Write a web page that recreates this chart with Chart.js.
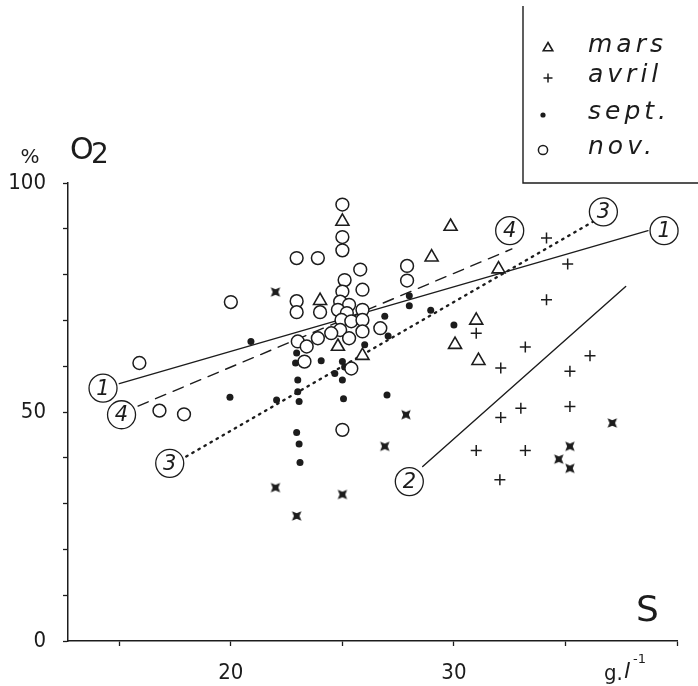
<!DOCTYPE html>
<html>
<head>
<meta charset="utf-8">
<script src="https://cdn.jsdelivr.net/npm/chart.js@4.4.1/dist/chart.umd.min.js"></script>
<style>
  html, body { margin: 0; background: #fff; }
  #wrap { width: 698px; height: 686px; position: relative; }
</style>
</head>
<body>
<div id="wrap"><canvas id="o2Chart"></canvas></div>
<script>
// salinity S (g/l) vs dissolved oxygen O2 (% saturation)
const marsS  = [25.0, 24.0, 29.85, 29.0, 32.0, 24.8, 25.9, 31.0, 30.05, 31.1];
const marsO2 = [91.6, 74.3, 90.5, 83.8, 81.2, 64.3, 62.3, 70.0, 64.7, 61.2];

const avrilS  = [34.15, 35.1, 34.15, 33.2, 31.0, 32.1, 36.1, 35.2, 33.0, 35.2, 32.1, 31.0, 33.2, 32.06];
const avrilO2 = [88.0, 82.3, 74.5, 64.2, 67.2, 59.6, 62.3, 58.9, 50.8, 51.2, 48.8, 41.6, 41.6, 35.2];

const septS  = [20.9, 22.95, 22.9, 24.05, 25.0, 24.66, 25.1, 23.0, 25.0, 23.0, 19.96, 22.05, 23.06,
                25.05, 27.0, 22.95, 23.06, 23.1, 26.9, 27.05, 26.0, 28.0, 28.0, 28.96, 30.0, 25.0];
const septO2 = [65.4, 62.9, 60.7, 61.2, 61.0, 58.4, 59.8, 57.0, 57.0, 54.4, 53.2, 52.6, 52.3,
                52.9, 53.7, 45.5, 43.0, 39.0, 70.9, 66.6, 64.7, 75.4, 73.2, 72.2, 69.0, 46.1];

const novS  = [25.0, 25.0, 25.0, 22.95, 23.9, 25.8, 25.1, 25.9, 20.0, 22.95, 22.95, 24.0, 25.0, 24.9,
               25.3, 24.8, 25.2, 25.9, 24.96, 25.4, 25.9, 24.9, 24.5, 25.3, 25.9, 23.9, 26.7, 23.0,
               23.4, 23.3, 25.4, 27.9, 27.9, 15.9, 16.8, 17.9, 25.0];
const novO2 = [95.3, 88.2, 85.3, 83.6, 83.6, 81.1, 78.8, 76.7, 74.0, 74.2, 71.8, 71.8, 76.3, 74.1,
               73.4, 72.3, 71.6, 72.3, 70.1, 69.8, 70.1, 67.9, 67.2, 66.1, 67.6, 66.1, 68.3, 65.4,
               64.3, 61.0, 59.5, 81.9, 78.7, 60.7, 50.3, 49.5, 46.1];

// superimposed points (drawn as black stars)
const starS  = [22.0, 26.9, 22.0, 25.0, 22.95, 27.85, 37.1, 35.2, 34.7, 35.2];
const starO2 = [76.2, 42.5, 33.5, 32.0, 27.3, 49.4, 47.6, 42.5, 39.7, 37.7];

// regression lines 1-4 (end points) and their circled labels
const line1S = [15.0, 38.7],  line1O2 = [56.2, 89.6];
const line2S = [28.6, 37.7],  line2O2 = [38.1, 77.4];
const line3S = [18.0, 36.25], line3O2 = [40.3, 91.6];
const line4S = [15.84, 32.6], line4O2 = [51.3, 85.6];
const lineLabelS    = [14.27, 39.42, 28.0, 17.26, 36.7, 15.1, 32.5];
const lineLabelO2   = [55.2, 89.6, 34.8, 38.8, 93.7, 49.4, 89.6];
const lineLabelText = ['1', '1', '2', '3', '3', '4', '4'];

const xTickLabels = [20, 30];
const yTickLabels = [0, 50, 100];
const legendNames = ['mars', 'avril', 'sept.', 'nov.'];

const INK = '#1c1c1c';
const tickFont = "'Liberation Sans Narrow', 'DejaVu Sans Condensed', 'DejaVu Sans', sans-serif";
const zip = (xs, ys) => xs.map((x, i) => ({ x, y: ys[i] }));

function starIcon(size) {
  const c = document.createElement('canvas');
  c.width = c.height = size;
  const g = c.getContext('2d');
  const r = size / 2;
  g.translate(r, r);
  g.rotate(Math.PI / 4);
  g.beginPath();
  for (let i = 0; i < 8; i++) {
    const rr = i % 2 === 0 ? r - 0.3 : r * 0.4;
    const a = i * Math.PI / 4;
    g.lineTo(Math.cos(a) * rr, Math.sin(a) * rr);
  }
  g.closePath();
  g.fillStyle = INK;
  g.fill();
  return c;
}

const markerStyles = [
  { pointStyle: 'triangle', radius: 7.5, backgroundColor: '#fff', borderColor: INK, borderWidth: 1.6 },
  { pointStyle: 'cross', radius: 5.5, backgroundColor: INK, borderColor: INK, borderWidth: 1.5 },
  { pointStyle: 'circle', radius: 3.5, backgroundColor: INK, borderColor: INK, borderWidth: 0 },
  { pointStyle: 'circle', radius: 6.4, backgroundColor: '#fff', borderColor: INK, borderWidth: 1.5 }
];

function scatterSet(label, xs, ys, st, order) {
  return {
    label, data: zip(xs, ys), order,
    pointStyle: st.pointStyle, pointRadius: st.radius,
    pointBackgroundColor: st.backgroundColor, pointBorderColor: st.borderColor,
    pointBorderWidth: st.borderWidth, showLine: false
  };
}

function lineSet(xs, ys, dash, width) {
  return {
    data: zip(xs, ys), showLine: true, pointRadius: 0, order: 10,
    borderColor: INK, borderWidth: width, borderDash: dash, borderCapStyle: 'round',
    clip: false
  };
}

// === extra texts, circled digits and legend box ===
const decorations = {
  id: 'decorations',
  afterDatasetsDraw(chart) {
    const ctx = chart.ctx;
    ctx.save();
    ctx.fillStyle = INK;
    ctx.strokeStyle = INK;

    // digits inside the line label circles
    const meta = chart.getDatasetMeta(0);
    ctx.font = "italic 21px 'DejaVu Sans', sans-serif";
    ctx.textAlign = 'center';
    ctx.textBaseline = 'middle';
    meta.data.forEach((pt, i) => ctx.fillText(lineLabelText[i], pt.x, pt.y + 1));

    // axis titles
    ctx.font = "20px 'DejaVu Sans', sans-serif";
    ctx.fillText('%', 30, 158);
    ctx.font = "30px 'DejaVu Sans', sans-serif";
    ctx.textAlign = 'left';
    ctx.fillText('O', 70, 151);
    ctx.font = "28px 'DejaVu Sans', sans-serif";
    ctx.fillText('2', 91, 156);
    ctx.font = "36px 'DejaVu Sans', sans-serif";
    ctx.fillText('S', 636, 612);
    ctx.font = "22px " + tickFont;
    ctx.fillText('g.', 604, 674);
    ctx.font = "italic 22px 'DejaVu Sans', sans-serif";
    ctx.fillText('l', 624, 672);
    ctx.font = "13px 'DejaVu Sans', sans-serif";
    ctx.fillText('-1', 633, 660);

    // legend box
    ctx.lineWidth = 1.4;
    ctx.beginPath();
    ctx.moveTo(523, 6);
    ctx.lineTo(523, 183);
    ctx.lineTo(698, 183);
    ctx.stroke();
    const rowsY = [48, 78, 115, 150];
    const rowsX = [548, 548, 543, 543];
    const legendRadius = [5.5, 4.5, 2.6, 4.6];
    ctx.font = "italic 25px 'DejaVu Sans', sans-serif";
    ctx.textAlign = 'left';
    if ('letterSpacing' in ctx) ctx.letterSpacing = '4px';
    markerStyles.forEach((st, i) => {
      ctx.fillStyle = st.backgroundColor;
      ctx.strokeStyle = st.borderColor;
      ctx.lineWidth = st.borderWidth || 0.01;
      Chart.helpers.drawPoint(ctx, { pointStyle: st.pointStyle, radius: legendRadius[i],
        borderWidth: st.borderWidth, rotation: 0 }, rowsX[i], rowsY[i]);
      ctx.fillStyle = INK;
      ctx.fillText(legendNames[i], 588, rowsY[i] - 3);
    });
    ctx.restore();
  }
};

new Chart(document.getElementById('o2Chart'), {
  type: 'scatter',
  data: {
    datasets: [
      {
        data: zip(lineLabelS, lineLabelO2), order: 0, showLine: false,
        pointStyle: 'circle', pointRadius: 14, pointBackgroundColor: '#fff',
        pointBorderColor: INK, pointBorderWidth: 1.3, clip: false
      },
      scatterSet('nov.', novS, novO2, markerStyles[3], 1),
      scatterSet('mars', marsS, marsO2, markerStyles[0], 1),
      scatterSet('avril', avrilS, avrilO2, markerStyles[1], 1),
      scatterSet('sept.', septS, septO2, markerStyles[2], 1),
      {
        data: zip(starS, starO2), order: 1, showLine: false,
        pointStyle: starIcon(14), pointRadius: 7
      },
      lineSet(line1S, line1O2, [], 1.4),
      lineSet(line2S, line2O2, [], 1.4),
      lineSet(line3S, line3O2, [1.5, 5.5], 2.4),
      lineSet(line4S, line4O2, [11, 8], 1.4)
    ]
  },
  options: {
    responsive: true,
    maintainAspectRatio: false,
    animation: false,
    layout: { padding: { top: 183, right: 21, left: 0, bottom: 0 } },
    plugins: {
      legend: { display: false },
      tooltip: { enabled: false }
    },
    scales: {
      x: {
        type: 'linear', min: 12.7, max: 40,
        ticks: {
          stepSize: 5, includeBounds: false, autoSkip: false, maxRotation: 0,
          padding: 14, color: INK, font: { family: tickFont, size: 22 },
          callback: v => xTickLabels.includes(v) ? String(v) : ''
        },
        grid: { drawOnChartArea: false, tickLength: 5, color: INK, tickWidth: 1.3 },
        border: { color: INK, width: 1.5 },
        afterFit: s => { s.height = 45; }
      },
      y: {
        min: 0, max: 100,
        ticks: {
          stepSize: 10, autoSkip: false, padding: 17, color: INK,
          font: { family: tickFont, size: 22 },
          callback: v => yTickLabels.includes(v) ? String(v) : ''
        },
        grid: { drawOnChartArea: false, tickLength: 5, color: INK, tickWidth: 1.3 },
        border: { color: INK, width: 1.5 },
        afterFit: s => { s.height = undefined; s.width = 68; }
      }
    }
  },
  plugins: [decorations]
});
</script>
</body>
</html>
